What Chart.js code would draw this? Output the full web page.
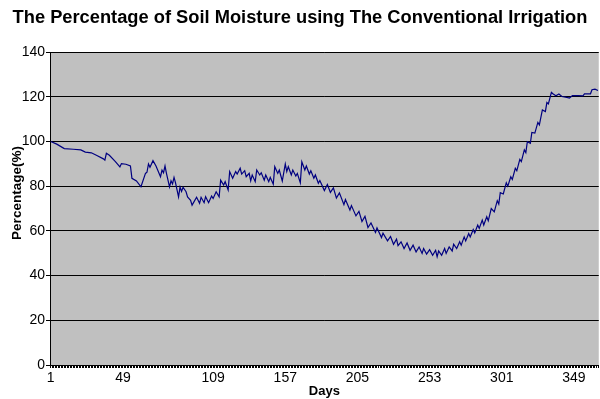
<!DOCTYPE html>
<html>
<head>
<meta charset="utf-8">
<title>Soil Moisture - Conventional Irrigation</title>
<script src="https://cdn.jsdelivr.net/npm/chart.js@4.4.1/dist/chart.umd.min.js"></script>
<style>
    html, body { margin: 0; padding: 0; background: #ffffff; }
    canvas { display: block; }
</style>
</head>
<body>
<canvas id="soilChart" width="600" height="399"></canvas>
<script>
/* =========================
   DATA
========================= */

const days = [
    1, 5, 10, 16, 21, 24, 28, 32, 36, 37, 38, 40, 44, 47, 48, 51, 54, 55, 58, 61,
    64, 65, 66, 67, 69, 71, 74, 75, 76, 77, 78, 80, 81, 82, 83, 84, 86, 87, 88, 89,
    91, 92, 94, 95, 98, 100, 101, 103, 104, 106, 108, 109, 111, 113,
    114, 116, 117, 119, 120, 122, 124, 125, 127, 128, 130, 131, 133, 134, 135, 137,
    138, 140, 141, 143, 144, 146, 147, 149, 150, 152, 153, 155, 157, 158, 159, 161,
    162, 164, 165, 167, 168, 170, 171, 173, 174, 176, 177, 179,
    180, 183, 185, 187, 189, 191, 193, 196, 197, 200, 201, 204, 206, 208, 210, 212,
    214, 217, 218, 221, 222, 225, 227, 229, 231, 232,
    234, 236, 238, 240, 242, 244, 246, 248, 249, 251, 253, 255, 257, 258, 259, 261,
    263, 264, 266, 268, 269, 271, 273, 274, 276, 277, 279, 280, 282, 283, 285, 286,
    288, 289, 291, 292, 294, 296, 298, 299, 300, 302, 304, 305, 307, 308, 310, 311,
    313, 314, 316, 317, 318, 320, 321, 323, 325, 326, 328, 330, 331, 332, 334,
    335, 337, 339, 341, 345, 346, 348, 352, 355, 356, 360, 361, 363, 365
];

const moisture = [
    100, 98.8, 96.8, 96.5, 96.2, 95.2, 94.9, 93.6, 92.2, 91.6, 94.7, 93.8, 91.0, 88.6, 90.1, 89.8, 89.0, 83.5, 82.3, 79.7,
    85.7, 86.2, 89.9, 88.4, 91.4, 89.0, 84.2, 87.2, 86.0, 89.0, 85.6, 79.7, 82.4, 81.0, 83.9, 81.5, 75.2, 79.6, 77.6, 79.5,
    77.5, 75.2, 73.7, 71.5, 75.0, 72.3, 75.0, 72.6, 75.3, 72.6, 75.6, 74.5, 77.5, 75.2,
    82.7, 80.5, 82.0, 78.3, 86.5, 83.5, 86.5, 85.4, 88.0, 85.4, 86.9, 84.2, 85.7, 82.4, 85.0, 82.0,
    87.2, 85.0, 86.0, 82.7, 85.0, 82.0, 83.9, 80.9, 88.7, 85.7, 87.2, 82.3, 89.9, 86.5, 88.7, 85.0,
    87.2, 84.5, 85.7, 81.5, 90.9, 87.2, 89.0, 85.4, 86.9, 83.5, 85.0, 81.3,
    82.5, 78.0, 80.7, 77.2, 79.2, 74.7, 77.0, 71.7, 74.0, 69.3, 71.3, 66.7, 68.7, 64.2, 66.5, 61.5,
    63.5, 59.3, 61.3, 57.0, 59.0, 55.5, 57.5, 54.0, 56.3, 53.4,
    55.1, 52.1, 54.6, 51.3, 53.6, 50.6, 52.8, 49.9, 52.1, 49.6, 51.6, 49.1, 51.3, 48.4, 51.0, 49.1,
    52.1, 49.9, 52.8, 51.0, 54.0, 52.1, 55.1, 53.6, 57.3, 55.5, 58.8, 57.3, 60.6, 59.1, 62.6, 61.1,
    64.8, 62.6, 66.3, 64.5, 70.0, 68.5, 73.5, 72.0, 77.1, 76.5, 81.5, 80.0, 84.2, 83.0, 88.0, 86.9,
    92.0, 91.0, 96.2, 95.0, 99.9, 99.2, 104.0, 103.7, 108.5, 107.4, 114.1, 113.4, 117.4, 116.8, 121.9,
    121.3, 120.4, 121.2, 120.1, 119.6, 119.4, 120.5, 120.5, 120.4, 121.3, 121.3, 123.1, 123.4, 122.8
];

const tickDays = [1, 49, 109, 157, 205, 253, 301, 349];

const chartTitle = "The Percentage of Soil Moisture using The Conventional Irrigation";
const xTitle = "Days";
const yTitle = "Percentage(%)";

/* =========================
   PLUGINS
========================= */

// grey plot area like the old Excel default
const plotBackground = {
    id: "plotBackground",
    beforeDraw(chart) {
        const { ctx, chartArea: a } = chart;
        ctx.save();
        ctx.fillStyle = "#ffffff";
        ctx.fillRect(0, 0, chart.width, chart.height);
        ctx.fillStyle = "#c0c0c0";
        ctx.fillRect(a.left, a.top, a.right - a.left, a.bottom - a.top);
        ctx.restore();
    }
};

// y title sits a bit above the middle of the plot in the original
const yAxisTitle = {
    id: "yAxisTitle",
    afterDraw(chart) {
        const ctx = chart.ctx;
        ctx.save();
        ctx.translate(17, 193);
        ctx.rotate(-Math.PI / 2);
        ctx.font = 'bold 13.5px "Liberation Sans", Arial, sans-serif';
        ctx.fillStyle = "#000";
        ctx.textAlign = "center";
        ctx.textBaseline = "middle";
        ctx.fillText(yTitle, 0, 0);
        ctx.restore();
    }
};

/* =========================
   CHART
========================= */

Chart.defaults.font.family = '"Liberation Sans", Arial, sans-serif';
Chart.defaults.color = "#000";

const points = days.map((d, i) => ({ x: d, y: moisture[i] }));

new Chart(document.getElementById("soilChart"), {
    type: "line",
    data: {
        datasets: [{
            data: points,
            borderColor: "#000080",
            borderWidth: 1.2,
            pointRadius: 0,
            tension: 0,
            fill: false
        }]
    },
    options: {
        responsive: false,
        animation: false,
        layout: { padding: 0 },
        plugins: {
            legend: { display: false },
            tooltip: { enabled: false },
            title: {
                display: true,
                text: chartTitle,
                color: "#000",
                font: { size: 18.3, weight: "bold" },
                padding: { top: 7, bottom: 23.04 }
            }
        },
        scales: {
            x: {
                type: "linear",
                min: 0.5,
                max: 365.5,
                afterBuildTicks: scale => {
                    const t = [];
                    for (let d = 1; d <= 365; d++) t.push({ value: d });
                    scale.ticks = t;
                },
                afterFit: scale => { scale.height = 34; },
                ticks: {
                    autoSkip: false,
                    maxRotation: 0,
                    padding: 2,
                    font: { size: 14 },
                    callback: v => tickDays.includes(v) ? String(v) : ""
                },
                grid: { drawOnChartArea: false, tickLength: 3, color: "#000" },
                border: { color: "#000" },
                title: {
                    display: true,
                    text: xTitle,
                    font: { size: 13, weight: "bold" },
                    padding: 0
                }
            },
            y: {
                min: 0,
                max: 140,
                afterFit: scale => { scale.width = 50; },
                ticks: { stepSize: 20, padding: 1, font: { size: 14 } },
                grid: { color: "#000", tickLength: 4 },
                border: { color: "#000" }
            }
        }
    },
    plugins: [plotBackground, yAxisTitle]
});
</script>
</body>
</html>
